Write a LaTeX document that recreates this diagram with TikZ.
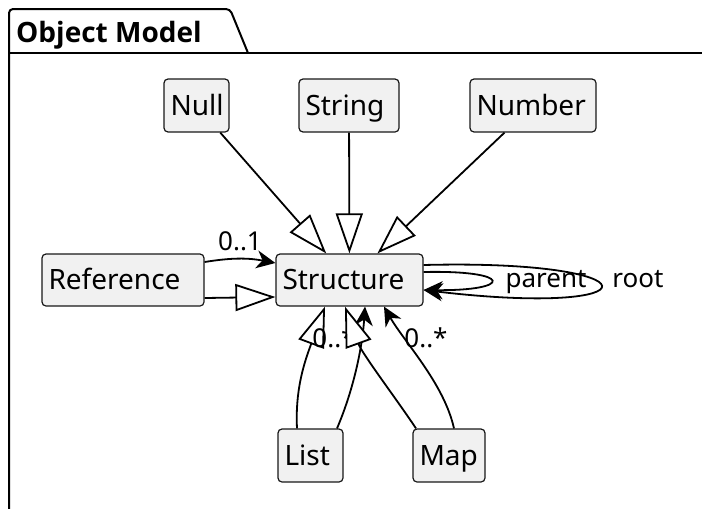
\documentclass[tikz,border=0pt]{standalone}
\usepackage{fontspec}
\setmainfont{Noto Sans}
\newfontfamily\titlefont{Open Sans}
\usetikzlibrary{arrows.meta,calc}
\definecolor{boxfill}{HTML}{F1F1F1}
\definecolor{ink}{HTML}{181818}

\begin{document}
\begin{tikzpicture}[x=1pt,y=-1pt,
  cls/.style={draw=ink, fill=boxfill, line width=1.2pt, rounded corners=4pt,
    inner ysep=0pt, inner xsep=6.5pt, minimum height=53pt, text height=20pt, text depth=1pt,
    align=left, font=\fontsize{28}{32}\selectfont},
  conn/.style={draw=black, line width=1.8pt},
  inherit/.style={conn, -{Triangle[length=40pt,width=27pt,fill=white]}},
  assoc/.style={conn, -{Stealth[length=19pt,width=18pt,inset=6pt]}},
  lbl/.style={font=\fontsize{26}{30}\selectfont, inner sep=0pt, anchor=base}
]
\useasboundingbox (0,0) rectangle (702,509);

% package frame with its tab
\draw[line width=2pt, rounded corners=4pt] (9,515) -- (9,9) -- (230,9) -- (248,53);
\draw[line width=2pt] (9,53) -- (710,53);
\node[anchor=base west, inner sep=0pt, font=\titlefont\bfseries\fontsize{28}{32}\selectfont]
  (title) at (16,42) {Object Model};

% classes (text set flush left inside each box)
\node[cls, text width=52pt,  minimum width=65pt]  (null)   at (196.5,105.5) {Null};
\node[cls, text width=87pt,  minimum width=100pt] (string) at (349,105.5)   {String};
\node[cls, text width=113pt, minimum width=126pt] (number) at (533,105.5)   {Number};
\node[cls, text width=149pt, minimum width=162pt, minimum height=52pt] (ref)    at (123,280)   {Reference};
\node[cls, text width=134pt, minimum width=147pt, minimum height=52pt] (struct) at (349.5,280) {Structure};
\node[cls, text width=52pt,  minimum width=65pt]  (list)   at (310.5,455.5) {List};
\node[cls, text width=59pt,  minimum width=72pt]  (map)    at (449,455.5)   {Map};

% generalisations from above
\draw[inherit] (null) -- (struct);
\draw[inherit] (string) -- (struct);
\draw[inherit] (number) -- (struct);

% Reference
\draw[assoc] ($(ref.east)+(0,-18)$) to[bend left=10] ($(struct.west)+(0,-17)$);
\draw[inherit] ($(ref.east)+(0,18)$) -- ($(struct.west)+(0,17)$);
\node[lbl] (l01) at (240,250) {0..1};

% self associations
\draw[assoc] ($(struct.east)+(0,-15)$) .. controls +(236,-6) and +(236,28) .. ($(struct.east)+(0,10)$);
\draw[assoc] ($(struct.east)+(0,-8)$) .. controls +(90,-2) and +(90,1) .. ($(struct.east)+(0,10)$);
\node[lbl] (lparent) at (546,287) {parent};
\node[lbl] (lroot)   at (638,287) {root};

% List
\draw[inherit] ($(list.north)+(-13.5,0)$) .. controls +(-2,-40) and +(-20,54) .. ($(struct.south)+(-24.5,0)$);
\draw[assoc] ($(list.north)+(26.5,0)$) .. controls +(15,-35) and +(-3,45) .. ($(struct.south)+(15.5,0)$);
\node[lbl] (llist) at (334,347) {0..*};

% Map
\draw[inherit] ($(map.north)+(-33,0)$) .. controls +(-20,-30) and +(17,47) .. ($(struct.south)+(-4.5,0)$);
\draw[assoc] ($(map.north)+(5,0)$) .. controls +(-10,-45) and +(20,35) .. ($(struct.south)+(34.5,0)$);
\node[lbl] (lmap) at (426,347) {0..*};
\end{tikzpicture}
\end{document}
